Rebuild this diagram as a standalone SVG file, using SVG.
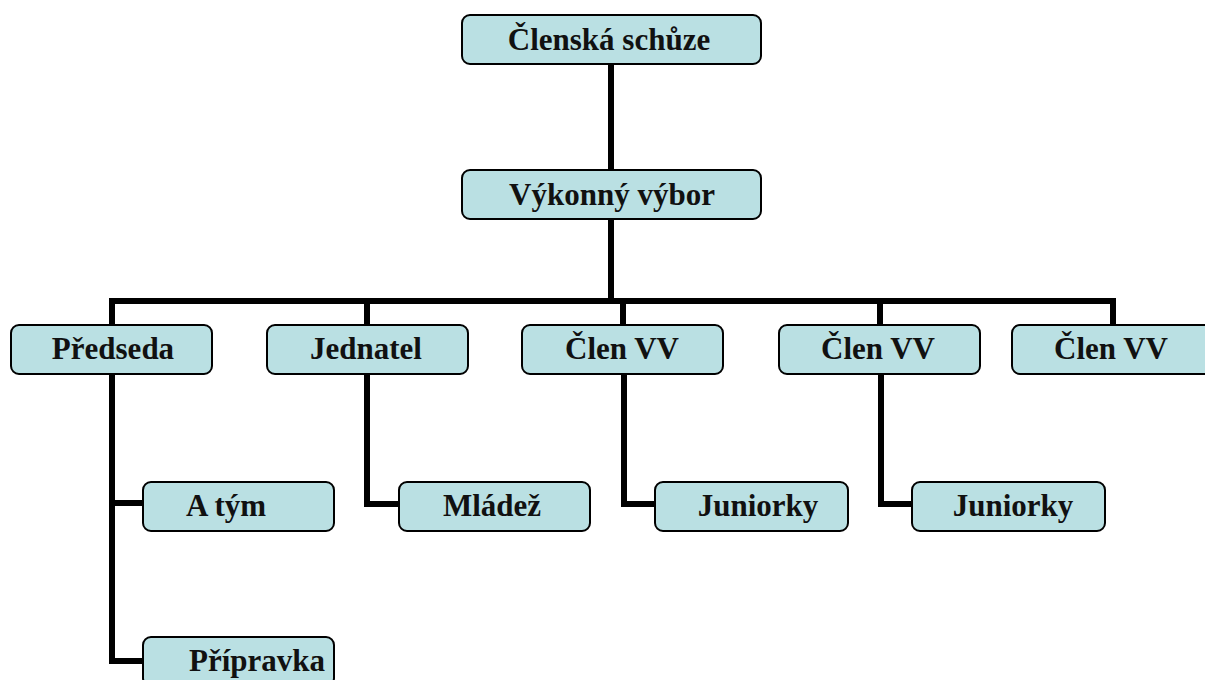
<svg xmlns="http://www.w3.org/2000/svg" width="1205" height="680" viewBox="0 0 1205 680">
  <style>
    .box { fill: #bae0e3; stroke: #000; stroke-width: 2; }
    .lbl { font-family: "Liberation Serif", "Times New Roman", serif; font-weight: bold; font-size: 31px; fill: #111; text-anchor: middle; }
    .wire { fill: none; stroke: #000; stroke-width: 6; stroke-linejoin: miter; stroke-linecap: butt; }
  </style>
  <rect width="1205" height="680" fill="#fff"/>

  <!-- connectors -->
  <g id="connectors">
    <path class="wire" d="M611,64 V170"/>
    <path class="wire" d="M611,219 V301"/>
    <path class="wire" d="M112,325 V301 H1113 V325"/>
    <path class="wire" d="M367,301 V325"/>
    <path class="wire" d="M623,301 V325"/>
    <path class="wire" d="M880,301 V325"/>
    <path class="wire" d="M112,374 V661 H143"/>
    <path class="wire" d="M112,503 H143"/>
    <path class="wire" d="M367,374 V504 H399"/>
    <path class="wire" d="M624,374 V504 H655"/>
    <path class="wire" d="M881,374 V504 H912"/>
  </g>

  <g id="clenska-schuze">
    <rect class="box" x="462" y="15" width="299" height="49" rx="8"/>
    <text class="lbl" x="609" y="50">Členská schůze</text>
  </g>
  <g id="vykonny-vybor">
    <rect class="box" x="462" y="170" width="299" height="49" rx="8"/>
    <text class="lbl" x="612" y="205">Výkonný výbor</text>
  </g>

  <g id="predseda">
    <rect class="box" x="11" y="325" width="201" height="49" rx="8"/>
    <text class="lbl" x="113" y="359">Předseda</text>
  </g>
  <g id="jednatel">
    <rect class="box" x="267" y="325" width="201" height="49" rx="8"/>
    <text class="lbl" x="366" y="359">Jednatel</text>
  </g>
  <g id="clen-vv-1">
    <rect class="box" x="522" y="325" width="201" height="49" rx="8"/>
    <text class="lbl" x="622" y="359">Člen VV</text>
  </g>
  <g id="clen-vv-2">
    <rect class="box" x="779" y="325" width="201" height="49" rx="8"/>
    <text class="lbl" x="878" y="359">Člen VV</text>
  </g>
  <g id="clen-vv-3">
    <rect class="box" x="1012" y="325" width="205" height="49" rx="8"/>
    <text class="lbl" x="1111" y="359">Člen VV</text>
  </g>

  <g id="a-tym">
    <rect class="box" x="143" y="482" width="191" height="49" rx="8"/>
    <text class="lbl" x="226" y="516">A tým</text>
  </g>
  <g id="pripravka">
    <rect class="box" x="143" y="637" width="191" height="49" rx="8"/>
    <text class="lbl" x="257" y="671">Přípravka</text>
  </g>
  <g id="mladez">
    <rect class="box" x="399" y="482" width="191" height="49" rx="8"/>
    <text class="lbl" x="492" y="516">Mládež</text>
  </g>
  <g id="juniorky-1">
    <rect class="box" x="655" y="482" width="193" height="49" rx="8"/>
    <text class="lbl" x="758" y="516">Juniorky</text>
  </g>
  <g id="juniorky-2">
    <rect class="box" x="912" y="482" width="193" height="49" rx="8"/>
    <text class="lbl" x="1013" y="516">Juniorky</text>
  </g>
</svg>
